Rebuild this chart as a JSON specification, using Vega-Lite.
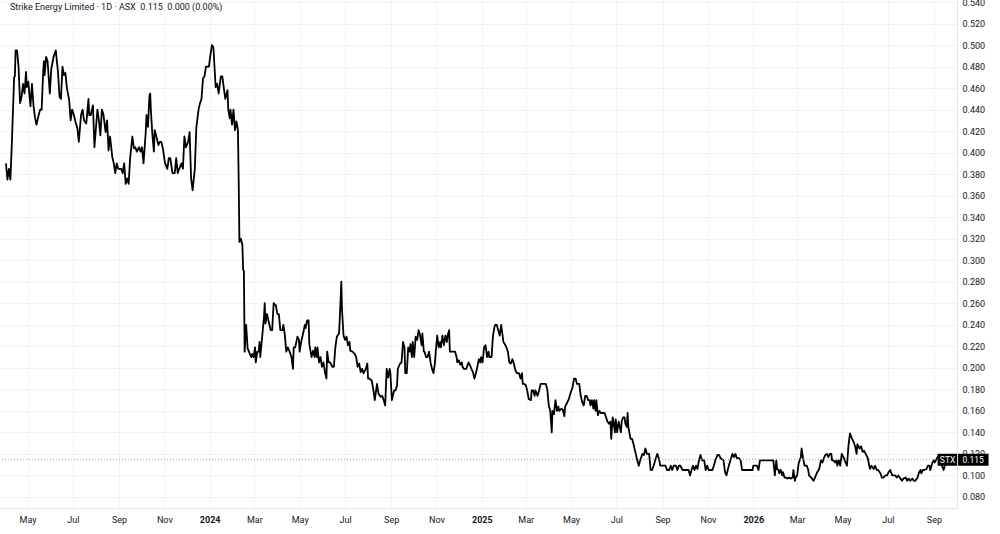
{
  "$schema": "https://vega.github.io/schema/vega-lite/v6.json",
  "width": 957,
  "height": 508,
  "autosize": {"type": "none"},
  "padding": {"left": 0, "top": 0, "right": 43, "bottom": 26},
  "background": "#ffffff",
  "config": {
    "view": {"stroke": null},
    "font": "Roboto",
    "axis": {"labelFont": "Roboto", "labelFontSize": 9, "labelColor": "#131722", "ticks": false, "domainColor": "#e0e3eb", "gridColor": "#f0f3fa", "gridWidth": 1, "title": null, "labelOverlap": false}
  },
  "title": {
    "text": "Strike Energy Limited · 1D · ASX \u00a00.115 \u00a00.000 (0.00%)",
    "anchor": "start",
    "frame": "group",
    "orient": "top",
    "baseline": "top",
    "offset": -14,
    "dx": 10,
    "fontSize": 9,
    "fontWeight": "normal",
    "font": "Roboto",
    "color": "#131722"
  },
  "datasets": {
    "price": [
      {"d":"2023-04-02","v":0.390},{"d":"2023-04-04","v":0.375},{"d":"2023-04-06","v":0.385},{"d":"2023-04-08","v":0.375},
      {"d":"2023-04-10","v":0.410},{"d":"2023-04-13","v":0.470},{"d":"2023-04-14","v":0.471},{"d":"2023-04-15","v":0.495},
      {"d":"2023-04-17","v":0.495},{"d":"2023-04-19","v":0.479},{"d":"2023-04-21","v":0.446},{"d":"2023-04-23","v":0.452},
      {"d":"2023-04-25","v":0.464},{"d":"2023-04-27","v":0.455},{"d":"2023-04-29","v":0.475},{"d":"2023-04-30","v":0.461},
      {"d":"2023-05-02","v":0.466},{"d":"2023-05-05","v":0.443},{"d":"2023-05-07","v":0.464},{"d":"2023-05-09","v":0.444},
      {"d":"2023-05-11","v":0.433},{"d":"2023-05-13","v":0.426},{"d":"2023-05-16","v":0.435},{"d":"2023-05-18","v":0.440},
      {"d":"2023-05-20","v":0.440},{"d":"2023-05-22","v":0.474},{"d":"2023-05-23","v":0.485},{"d":"2023-05-24","v":0.472},
      {"d":"2023-05-26","v":0.489},{"d":"2023-05-28","v":0.485},{"d":"2023-05-31","v":0.455},{"d":"2023-06-02","v":0.478},
      {"d":"2023-06-05","v":0.489},{"d":"2023-06-08","v":0.495},{"d":"2023-06-11","v":0.475},{"d":"2023-06-13","v":0.452},
      {"d":"2023-06-15","v":0.450},{"d":"2023-06-17","v":0.480},{"d":"2023-06-19","v":0.472},{"d":"2023-06-21","v":0.474},
      {"d":"2023-06-23","v":0.460},{"d":"2023-06-26","v":0.449},{"d":"2023-06-28","v":0.430},{"d":"2023-06-30","v":0.440},
      {"d":"2023-07-02","v":0.436},{"d":"2023-07-04","v":0.430},{"d":"2023-07-07","v":0.423},{"d":"2023-07-09","v":0.410},
      {"d":"2023-07-12","v":0.435},{"d":"2023-07-14","v":0.440},{"d":"2023-07-16","v":0.430},{"d":"2023-07-19","v":0.427},
      {"d":"2023-07-22","v":0.450},{"d":"2023-07-23","v":0.435},{"d":"2023-07-25","v":0.435},{"d":"2023-07-28","v":0.444},
      {"d":"2023-07-30","v":0.405},{"d":"2023-08-03","v":0.440},{"d":"2023-08-05","v":0.430},{"d":"2023-08-07","v":0.416},
      {"d":"2023-08-09","v":0.440},{"d":"2023-08-11","v":0.436},{"d":"2023-08-14","v":0.419},{"d":"2023-08-16","v":0.430},
      {"d":"2023-08-18","v":0.402},{"d":"2023-08-20","v":0.415},{"d":"2023-08-23","v":0.396},{"d":"2023-08-25","v":0.390},
      {"d":"2023-08-27","v":0.381},{"d":"2023-08-29","v":0.390},{"d":"2023-08-31","v":0.385},{"d":"2023-09-04","v":0.385},
      {"d":"2023-09-06","v":0.381},{"d":"2023-09-08","v":0.390},{"d":"2023-09-10","v":0.371},{"d":"2023-09-12","v":0.376},
      {"d":"2023-09-14","v":0.371},{"d":"2023-09-16","v":0.395},{"d":"2023-09-19","v":0.415},{"d":"2023-09-21","v":0.404},
      {"d":"2023-09-23","v":0.405},{"d":"2023-09-25","v":0.401},{"d":"2023-09-28","v":0.405},{"d":"2023-09-30","v":0.401},
      {"d":"2023-10-02","v":0.405},{"d":"2023-10-04","v":0.390},{"d":"2023-10-07","v":0.419},{"d":"2023-10-08","v":0.435},
      {"d":"2023-10-10","v":0.424},{"d":"2023-10-12","v":0.453},{"d":"2023-10-13","v":0.455},{"d":"2023-10-14","v":0.438},
      {"d":"2023-10-16","v":0.416},{"d":"2023-10-18","v":0.401},{"d":"2023-10-19","v":0.421},{"d":"2023-10-21","v":0.416},
      {"d":"2023-10-24","v":0.407},{"d":"2023-10-26","v":0.410},{"d":"2023-10-28","v":0.410},{"d":"2023-10-30","v":0.404},
      {"d":"2023-11-02","v":0.390},{"d":"2023-11-05","v":0.385},{"d":"2023-11-07","v":0.395},{"d":"2023-11-09","v":0.395},
      {"d":"2023-11-12","v":0.381},{"d":"2023-11-15","v":0.381},{"d":"2023-11-17","v":0.395},{"d":"2023-11-19","v":0.381},
      {"d":"2023-11-21","v":0.385},{"d":"2023-11-24","v":0.390},{"d":"2023-11-26","v":0.385},{"d":"2023-11-28","v":0.415},
      {"d":"2023-11-30","v":0.405},{"d":"2023-12-03","v":0.410},{"d":"2023-12-05","v":0.419},{"d":"2023-12-07","v":0.376},
      {"d":"2023-12-09","v":0.365},{"d":"2023-12-12","v":0.385},{"d":"2023-12-14","v":0.423},{"d":"2023-12-17","v":0.440},
      {"d":"2023-12-19","v":0.446},{"d":"2023-12-21","v":0.450},{"d":"2023-12-23","v":0.469},{"d":"2023-12-25","v":0.471},
      {"d":"2023-12-27","v":0.480},{"d":"2023-12-31","v":0.480},{"d":"2024-01-02","v":0.491},{"d":"2024-01-04","v":0.500},
      {"d":"2024-01-06","v":0.498},{"d":"2024-01-09","v":0.461},{"d":"2024-01-11","v":0.464},{"d":"2024-01-13","v":0.455},
      {"d":"2024-01-16","v":0.471},{"d":"2024-01-18","v":0.471},{"d":"2024-01-20","v":0.460},{"d":"2024-01-22","v":0.450},
      {"d":"2024-01-25","v":0.458},{"d":"2024-01-26","v":0.440},{"d":"2024-01-28","v":0.432},{"d":"2024-01-29","v":0.440},
      {"d":"2024-01-31","v":0.426},{"d":"2024-02-02","v":0.440},{"d":"2024-02-04","v":0.421},{"d":"2024-02-06","v":0.429},
      {"d":"2024-02-08","v":0.421},{"d":"2024-02-09","v":0.374},{"d":"2024-02-10","v":0.317},{"d":"2024-02-12","v":0.320},
      {"d":"2024-02-14","v":0.314},{"d":"2024-02-15","v":0.291},{"d":"2024-02-16","v":0.290},{"d":"2024-02-17","v":0.215},
      {"d":"2024-02-19","v":0.240},{"d":"2024-02-21","v":0.218},{"d":"2024-02-24","v":0.213},{"d":"2024-02-26","v":0.210},
      {"d":"2024-02-27","v":0.213},{"d":"2024-02-29","v":0.210},{"d":"2024-03-02","v":0.219},{"d":"2024-03-03","v":0.205},
      {"d":"2024-03-05","v":0.215},{"d":"2024-03-07","v":0.215},{"d":"2024-03-08","v":0.224},{"d":"2024-03-09","v":0.210},
      {"d":"2024-03-12","v":0.232},{"d":"2024-03-14","v":0.247},{"d":"2024-03-15","v":0.260},{"d":"2024-03-16","v":0.241},
      {"d":"2024-03-18","v":0.250},{"d":"2024-03-21","v":0.241},{"d":"2024-03-23","v":0.235},{"d":"2024-03-25","v":0.235},
      {"d":"2024-03-27","v":0.260},{"d":"2024-03-30","v":0.258},{"d":"2024-04-01","v":0.250},{"d":"2024-04-03","v":0.250},
      {"d":"2024-04-05","v":0.235},{"d":"2024-04-08","v":0.235},{"d":"2024-04-09","v":0.240},{"d":"2024-04-11","v":0.231},
      {"d":"2024-04-13","v":0.215},{"d":"2024-04-15","v":0.219},{"d":"2024-04-17","v":0.216},{"d":"2024-04-20","v":0.210},
      {"d":"2024-04-22","v":0.199},{"d":"2024-04-23","v":0.219},{"d":"2024-04-25","v":0.219},{"d":"2024-04-28","v":0.229},
      {"d":"2024-04-30","v":0.226},{"d":"2024-05-01","v":0.215},{"d":"2024-05-03","v":0.224},{"d":"2024-05-06","v":0.233},
      {"d":"2024-05-08","v":0.240},{"d":"2024-05-09","v":0.237},{"d":"2024-05-11","v":0.244},{"d":"2024-05-13","v":0.244},
      {"d":"2024-05-14","v":0.222},{"d":"2024-05-17","v":0.210},{"d":"2024-05-19","v":0.216},{"d":"2024-05-21","v":0.210},
      {"d":"2024-05-22","v":0.219},{"d":"2024-05-24","v":0.210},{"d":"2024-05-25","v":0.219},{"d":"2024-05-27","v":0.205},
      {"d":"2024-05-29","v":0.210},{"d":"2024-05-31","v":0.201},{"d":"2024-06-02","v":0.205},{"d":"2024-06-04","v":0.196},
      {"d":"2024-06-06","v":0.190},{"d":"2024-06-07","v":0.215},{"d":"2024-06-09","v":0.205},{"d":"2024-06-11","v":0.205},
      {"d":"2024-06-14","v":0.201},{"d":"2024-06-16","v":0.201},{"d":"2024-06-18","v":0.219},{"d":"2024-06-20","v":0.229},
      {"d":"2024-06-23","v":0.232},{"d":"2024-06-24","v":0.247},{"d":"2024-06-26","v":0.280},{"d":"2024-06-27","v":0.253},
      {"d":"2024-06-29","v":0.230},{"d":"2024-07-01","v":0.226},{"d":"2024-07-03","v":0.229},{"d":"2024-07-05","v":0.221},
      {"d":"2024-07-07","v":0.224},{"d":"2024-07-08","v":0.216},{"d":"2024-07-11","v":0.215},{"d":"2024-07-14","v":0.213},
      {"d":"2024-07-16","v":0.210},{"d":"2024-07-18","v":0.201},{"d":"2024-07-20","v":0.204},{"d":"2024-07-22","v":0.196},
      {"d":"2024-07-24","v":0.199},{"d":"2024-07-26","v":0.195},{"d":"2024-07-29","v":0.199},{"d":"2024-07-31","v":0.204},
      {"d":"2024-08-01","v":0.190},{"d":"2024-08-03","v":0.190},{"d":"2024-08-06","v":0.188},{"d":"2024-08-08","v":0.180},
      {"d":"2024-08-10","v":0.170},{"d":"2024-08-13","v":0.185},{"d":"2024-08-15","v":0.176},{"d":"2024-08-18","v":0.173},
      {"d":"2024-08-20","v":0.174},{"d":"2024-08-22","v":0.170},{"d":"2024-08-24","v":0.165},{"d":"2024-08-26","v":0.199},
      {"d":"2024-08-28","v":0.191},{"d":"2024-08-30","v":0.199},{"d":"2024-08-31","v":0.195},{"d":"2024-09-02","v":0.170},
      {"d":"2024-09-05","v":0.179},{"d":"2024-09-07","v":0.179},{"d":"2024-09-09","v":0.184},{"d":"2024-09-10","v":0.199},
      {"d":"2024-09-13","v":0.204},{"d":"2024-09-15","v":0.205},{"d":"2024-09-17","v":0.224},{"d":"2024-09-19","v":0.219},
      {"d":"2024-09-20","v":0.195},{"d":"2024-09-22","v":0.195},{"d":"2024-09-24","v":0.219},{"d":"2024-09-26","v":0.215},
      {"d":"2024-09-27","v":0.222},{"d":"2024-09-29","v":0.210},{"d":"2024-09-30","v":0.224},{"d":"2024-10-02","v":0.210},
      {"d":"2024-10-04","v":0.229},{"d":"2024-10-06","v":0.226},{"d":"2024-10-08","v":0.235},{"d":"2024-10-10","v":0.230},
      {"d":"2024-10-12","v":0.221},{"d":"2024-10-13","v":0.232},{"d":"2024-10-15","v":0.215},{"d":"2024-10-16","v":0.215},
      {"d":"2024-10-18","v":0.210},{"d":"2024-10-20","v":0.210},{"d":"2024-10-22","v":0.215},{"d":"2024-10-24","v":0.205},
      {"d":"2024-10-26","v":0.199},{"d":"2024-10-28","v":0.195},{"d":"2024-10-30","v":0.205},{"d":"2024-10-31","v":0.215},
      {"d":"2024-11-02","v":0.230},{"d":"2024-11-04","v":0.219},{"d":"2024-11-06","v":0.224},{"d":"2024-11-07","v":0.219},
      {"d":"2024-11-09","v":0.230},{"d":"2024-11-11","v":0.221},{"d":"2024-11-13","v":0.230},{"d":"2024-11-15","v":0.224},
      {"d":"2024-11-16","v":0.230},{"d":"2024-11-18","v":0.235},{"d":"2024-11-19","v":0.215},{"d":"2024-11-22","v":0.215},
      {"d":"2024-11-26","v":0.215},{"d":"2024-11-28","v":0.210},{"d":"2024-11-29","v":0.205},{"d":"2024-12-01","v":0.207},
      {"d":"2024-12-03","v":0.203},{"d":"2024-12-05","v":0.205},{"d":"2024-12-06","v":0.201},{"d":"2024-12-08","v":0.199},
      {"d":"2024-12-11","v":0.199},{"d":"2024-12-14","v":0.205},{"d":"2024-12-15","v":0.204},{"d":"2024-12-18","v":0.199},
      {"d":"2024-12-20","v":0.196},{"d":"2024-12-22","v":0.190},{"d":"2024-12-24","v":0.195},{"d":"2024-12-26","v":0.201},
      {"d":"2024-12-28","v":0.208},{"d":"2024-12-30","v":0.205},{"d":"2024-12-31","v":0.210},{"d":"2025-01-02","v":0.205},
      {"d":"2025-01-04","v":0.219},{"d":"2025-01-06","v":0.221},{"d":"2025-01-08","v":0.210},{"d":"2025-01-10","v":0.215},
      {"d":"2025-01-11","v":0.210},{"d":"2025-01-14","v":0.210},{"d":"2025-01-16","v":0.230},{"d":"2025-01-18","v":0.238},
      {"d":"2025-01-19","v":0.240},{"d":"2025-01-21","v":0.240},{"d":"2025-01-23","v":0.235},{"d":"2025-01-25","v":0.230},
      {"d":"2025-01-27","v":0.240},{"d":"2025-01-28","v":0.235},{"d":"2025-01-30","v":0.224},{"d":"2025-02-01","v":0.222},
      {"d":"2025-02-03","v":0.219},{"d":"2025-02-05","v":0.215},{"d":"2025-02-07","v":0.205},{"d":"2025-02-09","v":0.204},
      {"d":"2025-02-11","v":0.208},{"d":"2025-02-13","v":0.204},{"d":"2025-02-15","v":0.198},{"d":"2025-02-17","v":0.195},
      {"d":"2025-02-20","v":0.195},{"d":"2025-02-22","v":0.190},{"d":"2025-02-24","v":0.195},{"d":"2025-02-25","v":0.185},
      {"d":"2025-02-27","v":0.185},{"d":"2025-03-01","v":0.184},{"d":"2025-03-03","v":0.179},{"d":"2025-03-05","v":0.171},
      {"d":"2025-03-08","v":0.170},{"d":"2025-03-09","v":0.179},{"d":"2025-03-11","v":0.179},{"d":"2025-03-13","v":0.174},
      {"d":"2025-03-14","v":0.179},{"d":"2025-03-17","v":0.174},{"d":"2025-03-19","v":0.179},{"d":"2025-03-21","v":0.185},
      {"d":"2025-03-24","v":0.185},{"d":"2025-03-28","v":0.185},{"d":"2025-03-30","v":0.180},{"d":"2025-04-01","v":0.165},
      {"d":"2025-04-03","v":0.160},{"d":"2025-04-05","v":0.140},{"d":"2025-04-06","v":0.160},{"d":"2025-04-08","v":0.157},
      {"d":"2025-04-10","v":0.170},{"d":"2025-04-12","v":0.160},{"d":"2025-04-14","v":0.164},{"d":"2025-04-15","v":0.160},
      {"d":"2025-04-18","v":0.162},{"d":"2025-04-20","v":0.161},{"d":"2025-04-22","v":0.155},{"d":"2025-04-23","v":0.164},
      {"d":"2025-04-26","v":0.168},{"d":"2025-04-28","v":0.171},{"d":"2025-04-30","v":0.176},{"d":"2025-05-03","v":0.182},
      {"d":"2025-05-05","v":0.190},{"d":"2025-05-07","v":0.190},{"d":"2025-05-09","v":0.185},{"d":"2025-05-12","v":0.185},
      {"d":"2025-05-14","v":0.174},{"d":"2025-05-16","v":0.168},{"d":"2025-05-18","v":0.165},{"d":"2025-05-20","v":0.174},
      {"d":"2025-05-22","v":0.174},{"d":"2025-05-24","v":0.170},{"d":"2025-05-26","v":0.170},{"d":"2025-05-27","v":0.165},
      {"d":"2025-05-29","v":0.170},{"d":"2025-05-31","v":0.162},{"d":"2025-06-01","v":0.170},{"d":"2025-06-03","v":0.160},
      {"d":"2025-06-04","v":0.170},{"d":"2025-06-06","v":0.156},{"d":"2025-06-08","v":0.160},{"d":"2025-06-10","v":0.158},
      {"d":"2025-06-13","v":0.158},{"d":"2025-06-15","v":0.158},{"d":"2025-06-17","v":0.154},{"d":"2025-06-19","v":0.150},
      {"d":"2025-06-21","v":0.148},{"d":"2025-06-23","v":0.150},{"d":"2025-06-24","v":0.134},{"d":"2025-06-26","v":0.154},
      {"d":"2025-06-27","v":0.150},{"d":"2025-06-29","v":0.140},{"d":"2025-06-30","v":0.152},{"d":"2025-07-02","v":0.140},
      {"d":"2025-07-04","v":0.150},{"d":"2025-07-07","v":0.140},{"d":"2025-07-08","v":0.150},{"d":"2025-07-10","v":0.154},
      {"d":"2025-07-12","v":0.154},{"d":"2025-07-13","v":0.148},{"d":"2025-07-15","v":0.145},{"d":"2025-07-16","v":0.158},
      {"d":"2025-07-17","v":0.145},{"d":"2025-07-20","v":0.134},{"d":"2025-07-22","v":0.134},{"d":"2025-07-24","v":0.129},
      {"d":"2025-07-27","v":0.120},{"d":"2025-07-29","v":0.114},{"d":"2025-07-31","v":0.109},{"d":"2025-08-02","v":0.114},
      {"d":"2025-08-05","v":0.120},{"d":"2025-08-07","v":0.119},{"d":"2025-08-09","v":0.125},{"d":"2025-08-11","v":0.120},
      {"d":"2025-08-14","v":0.120},{"d":"2025-08-16","v":0.105},{"d":"2025-08-18","v":0.105},{"d":"2025-08-20","v":0.109},
      {"d":"2025-08-23","v":0.116},{"d":"2025-08-25","v":0.120},{"d":"2025-08-27","v":0.116},{"d":"2025-08-29","v":0.109},
      {"d":"2025-08-31","v":0.109},{"d":"2025-09-03","v":0.109},{"d":"2025-09-05","v":0.109},{"d":"2025-09-07","v":0.105},
      {"d":"2025-09-10","v":0.105},{"d":"2025-09-12","v":0.109},{"d":"2025-09-14","v":0.105},{"d":"2025-09-16","v":0.109},
      {"d":"2025-09-19","v":0.109},{"d":"2025-09-21","v":0.105},{"d":"2025-09-23","v":0.109},{"d":"2025-09-25","v":0.109},
      {"d":"2025-09-28","v":0.105},{"d":"2025-09-30","v":0.105},{"d":"2025-10-03","v":0.105},{"d":"2025-10-06","v":0.105},
      {"d":"2025-10-08","v":0.100},{"d":"2025-10-10","v":0.105},{"d":"2025-10-12","v":0.109},{"d":"2025-10-14","v":0.105},
      {"d":"2025-10-16","v":0.109},{"d":"2025-10-18","v":0.106},{"d":"2025-10-20","v":0.114},{"d":"2025-10-22","v":0.119},
      {"d":"2025-10-24","v":0.114},{"d":"2025-10-27","v":0.114},{"d":"2025-10-29","v":0.105},{"d":"2025-10-31","v":0.109},
      {"d":"2025-11-02","v":0.105},{"d":"2025-11-05","v":0.105},{"d":"2025-11-07","v":0.105},{"d":"2025-11-09","v":0.109},
      {"d":"2025-11-11","v":0.114},{"d":"2025-11-14","v":0.119},{"d":"2025-11-16","v":0.119},{"d":"2025-11-18","v":0.116},
      {"d":"2025-11-22","v":0.114},{"d":"2025-11-24","v":0.103},{"d":"2025-11-26","v":0.100},{"d":"2025-11-28","v":0.106},
      {"d":"2025-11-30","v":0.111},{"d":"2025-12-04","v":0.120},{"d":"2025-12-06","v":0.117},{"d":"2025-12-08","v":0.120},
      {"d":"2025-12-10","v":0.116},{"d":"2025-12-13","v":0.116},{"d":"2025-12-15","v":0.114},{"d":"2025-12-17","v":0.105},
      {"d":"2025-12-22","v":0.105},{"d":"2025-12-26","v":0.105},{"d":"2025-12-31","v":0.105},{"d":"2026-01-01","v":0.109},
      {"d":"2026-01-04","v":0.109},{"d":"2026-01-06","v":0.109},{"d":"2026-01-08","v":0.105},{"d":"2026-01-10","v":0.114},
      {"d":"2026-01-15","v":0.114},{"d":"2026-01-22","v":0.114},{"d":"2026-01-28","v":0.114},{"d":"2026-01-30","v":0.100},
      {"d":"2026-02-01","v":0.114},{"d":"2026-02-02","v":0.106},{"d":"2026-02-04","v":0.105},{"d":"2026-02-05","v":0.102},
      {"d":"2026-02-07","v":0.105},{"d":"2026-02-09","v":0.100},{"d":"2026-02-10","v":0.103},{"d":"2026-02-12","v":0.098},
      {"d":"2026-02-14","v":0.098},{"d":"2026-02-16","v":0.097},{"d":"2026-02-18","v":0.098},{"d":"2026-02-20","v":0.097},
      {"d":"2026-02-23","v":0.098},{"d":"2026-02-24","v":0.105},{"d":"2026-02-26","v":0.095},{"d":"2026-02-27","v":0.098},
      {"d":"2026-03-01","v":0.100},{"d":"2026-03-03","v":0.111},{"d":"2026-03-06","v":0.117},{"d":"2026-03-07","v":0.125},
      {"d":"2026-03-09","v":0.116},{"d":"2026-03-11","v":0.109},{"d":"2026-03-14","v":0.109},{"d":"2026-03-16","v":0.105},
      {"d":"2026-03-17","v":0.100},{"d":"2026-03-20","v":0.098},{"d":"2026-03-23","v":0.095},{"d":"2026-03-25","v":0.098},
      {"d":"2026-03-28","v":0.103},{"d":"2026-03-30","v":0.105},{"d":"2026-03-31","v":0.107},{"d":"2026-04-02","v":0.114},
      {"d":"2026-04-04","v":0.112},{"d":"2026-04-06","v":0.116},{"d":"2026-04-08","v":0.119},{"d":"2026-04-10","v":0.120},
      {"d":"2026-04-12","v":0.117},{"d":"2026-04-14","v":0.120},{"d":"2026-04-16","v":0.120},{"d":"2026-04-17","v":0.114},
      {"d":"2026-04-19","v":0.114},{"d":"2026-04-21","v":0.112},{"d":"2026-04-23","v":0.114},{"d":"2026-04-24","v":0.109},
      {"d":"2026-04-26","v":0.114},{"d":"2026-04-28","v":0.109},{"d":"2026-04-30","v":0.120},{"d":"2026-05-03","v":0.116},
      {"d":"2026-05-05","v":0.112},{"d":"2026-05-07","v":0.109},{"d":"2026-05-09","v":0.127},{"d":"2026-05-11","v":0.139},
      {"d":"2026-05-14","v":0.134},{"d":"2026-05-16","v":0.131},{"d":"2026-05-18","v":0.127},{"d":"2026-05-20","v":0.120},
      {"d":"2026-05-21","v":0.129},{"d":"2026-05-24","v":0.125},{"d":"2026-05-26","v":0.127},{"d":"2026-05-28","v":0.122},
      {"d":"2026-05-30","v":0.123},{"d":"2026-06-02","v":0.119},{"d":"2026-06-04","v":0.116},{"d":"2026-06-06","v":0.109},
      {"d":"2026-06-07","v":0.106},{"d":"2026-06-09","v":0.109},{"d":"2026-06-12","v":0.106},{"d":"2026-06-14","v":0.109},
      {"d":"2026-06-16","v":0.105},{"d":"2026-06-18","v":0.105},{"d":"2026-06-21","v":0.102},{"d":"2026-06-23","v":0.098},
      {"d":"2026-06-25","v":0.098},{"d":"2026-06-28","v":0.100},{"d":"2026-06-30","v":0.100},{"d":"2026-07-02","v":0.103},
      {"d":"2026-07-04","v":0.105},{"d":"2026-07-07","v":0.100},{"d":"2026-07-09","v":0.100},{"d":"2026-07-11","v":0.100},
      {"d":"2026-07-13","v":0.098},{"d":"2026-07-15","v":0.100},{"d":"2026-07-18","v":0.097},{"d":"2026-07-20","v":0.095},
      {"d":"2026-07-22","v":0.097},{"d":"2026-07-25","v":0.098},{"d":"2026-07-27","v":0.095},{"d":"2026-07-29","v":0.097},
      {"d":"2026-07-31","v":0.095},{"d":"2026-08-03","v":0.097},{"d":"2026-08-05","v":0.095},{"d":"2026-08-07","v":0.095},
      {"d":"2026-08-10","v":0.098},{"d":"2026-08-12","v":0.103},{"d":"2026-08-14","v":0.105},{"d":"2026-08-15","v":0.102},
      {"d":"2026-08-17","v":0.105},{"d":"2026-08-19","v":0.105},{"d":"2026-08-22","v":0.106},{"d":"2026-08-24","v":0.109},
      {"d":"2026-08-26","v":0.109},{"d":"2026-08-27","v":0.105},{"d":"2026-08-30","v":0.112},{"d":"2026-09-01","v":0.114},
      {"d":"2026-09-02","v":0.112},{"d":"2026-09-05","v":0.116},{"d":"2026-09-07","v":0.118},{"d":"2026-09-10","v":0.112},
      {"d":"2026-09-14","v":0.105},{"d":"2026-09-18","v":0.115}
    ],
    "last": [
      {"d": "2026-09-18", "v": 0.115, "symbol": "STX", "price": "0.115"}
    ]
  },
  "layer": [
    {
      "data": {"name": "price"},
      "mark": {"type": "line", "color": "#000000", "strokeWidth": 1.8, "strokeJoin": "round"},
      "encoding": {
        "x": {
          "field": "d",
          "type": "temporal",
          "scale": {"domain": ["2023-03-25", "2026-10-02"], "nice": false},
          "axis": {
            "values": [
              {"year": 2023, "month": 5, "date": 1}, {"year": 2023, "month": 7, "date": 1},
              {"year": 2023, "month": 9, "date": 1}, {"year": 2023, "month": 11, "date": 1},
              {"year": 2024, "month": 1, "date": 1}, {"year": 2024, "month": 3, "date": 1},
              {"year": 2024, "month": 5, "date": 1}, {"year": 2024, "month": 7, "date": 1},
              {"year": 2024, "month": 9, "date": 1}, {"year": 2024, "month": 11, "date": 1},
              {"year": 2025, "month": 1, "date": 1}, {"year": 2025, "month": 3, "date": 1},
              {"year": 2025, "month": 5, "date": 1}, {"year": 2025, "month": 7, "date": 1},
              {"year": 2025, "month": 9, "date": 1}, {"year": 2025, "month": 11, "date": 1},
              {"year": 2026, "month": 1, "date": 1}, {"year": 2026, "month": 3, "date": 1},
              {"year": 2026, "month": 5, "date": 1}, {"year": 2026, "month": 7, "date": 1},
              {"year": 2026, "month": 9, "date": 1}
            ],
            "labelExpr": "month(datum.value) == 0 ? timeFormat(datum.value, '%Y') : timeFormat(datum.value, '%b')",
            "labelFontWeight": {"condition": {"test": "month(datum.value) == 0", "value": "bold"}, "value": "normal"},
            "labelPadding": 7,
            "labelFlush": false,
            "labelOverlap": false,
            "grid": true,
            "title": null
          }
        },
        "y": {
          "field": "v",
          "type": "quantitative",
          "scale": {"domain": [0.0697, 0.5419], "nice": false, "zero": false},
          "axis": {
            "orient": "right",
            "values": [0.08, 0.1, 0.12, 0.14, 0.16, 0.18, 0.2, 0.22, 0.24, 0.26, 0.28, 0.3, 0.32, 0.34, 0.36, 0.38, 0.4, 0.42, 0.44, 0.46, 0.48, 0.5, 0.52, 0.54],
            "format": ".3f",
            "labelPadding": 5,
            "labelAlign": "left",
            "labelFlush": false,
            "labelOverlap": false,
            "grid": true,
            "title": null
          }
        }
      }
    },
    {
      "data": {"name": "last"},
      "mark": {"type": "rule", "color": "#9598a1", "strokeWidth": 1, "strokeDash": [1, 2]},
      "encoding": {
        "y": {
          "field": "v",
          "type": "quantitative",
          "axis": {
            "orient": "right",
            "values": [0.08, 0.1, 0.12, 0.14, 0.16, 0.18, 0.2, 0.22, 0.24, 0.26, 0.28, 0.3, 0.32, 0.34, 0.36, 0.38, 0.4, 0.42, 0.44, 0.46, 0.48, 0.5, 0.52, 0.54],
            "format": ".3f",
            "labelPadding": 5,
            "labelAlign": "left",
            "labelFlush": false,
            "labelOverlap": false,
            "grid": true,
            "title": null
          }
        }
      }
    },
    {
      "data": {"name": "last"},
      "mark": {"type": "point", "shape": "M-0.9,-0.55H1.05V0.65H-0.9Z M1.15,-0.55H4.2V0.65H1.15Z", "size": 400, "filled": true, "color": "#000000", "opacity": 1, "strokeWidth": 0},
      "encoding": {
        "x": {"field": "d", "type": "temporal"},
        "y": {
          "field": "v",
          "type": "quantitative",
          "axis": {
            "orient": "right",
            "values": [0.08, 0.1, 0.12, 0.14, 0.16, 0.18, 0.2, 0.22, 0.24, 0.26, 0.28, 0.3, 0.32, 0.34, 0.36, 0.38, 0.4, 0.42, 0.44, 0.46, 0.48, 0.5, 0.52, 0.54],
            "format": ".3f",
            "labelPadding": 5,
            "labelAlign": "left",
            "labelFlush": false,
            "labelOverlap": false,
            "grid": true,
            "title": null
          }
        }
      }
    },
    {
      "data": {"name": "last"},
      "mark": {"type": "text", "color": "#ffffff", "fontSize": 8.5, "font": "Roboto", "align": "center", "baseline": "middle", "dx": 1, "dy": 1},
      "encoding": {
        "x": {"field": "d", "type": "temporal"},
        "y": {
          "field": "v",
          "type": "quantitative",
          "axis": {
            "orient": "right",
            "values": [0.08, 0.1, 0.12, 0.14, 0.16, 0.18, 0.2, 0.22, 0.24, 0.26, 0.28, 0.3, 0.32, 0.34, 0.36, 0.38, 0.4, 0.42, 0.44, 0.46, 0.48, 0.5, 0.52, 0.54],
            "format": ".3f",
            "labelPadding": 5,
            "labelAlign": "left",
            "labelFlush": false,
            "labelOverlap": false,
            "grid": true,
            "title": null
          }
        },
        "text": {"field": "symbol"}
      }
    },
    {
      "data": {"name": "last"},
      "mark": {"type": "text", "color": "#ffffff", "fontSize": 8.5, "font": "Roboto", "align": "center", "baseline": "middle", "dx": 26.5, "dy": 1},
      "encoding": {
        "x": {"field": "d", "type": "temporal"},
        "y": {
          "field": "v",
          "type": "quantitative",
          "axis": {
            "orient": "right",
            "values": [0.08, 0.1, 0.12, 0.14, 0.16, 0.18, 0.2, 0.22, 0.24, 0.26, 0.28, 0.3, 0.32, 0.34, 0.36, 0.38, 0.4, 0.42, 0.44, 0.46, 0.48, 0.5, 0.52, 0.54],
            "format": ".3f",
            "labelPadding": 5,
            "labelAlign": "left",
            "labelFlush": false,
            "labelOverlap": false,
            "grid": true,
            "title": null
          }
        },
        "text": {"field": "price"}
      }
    }
  ]
}
